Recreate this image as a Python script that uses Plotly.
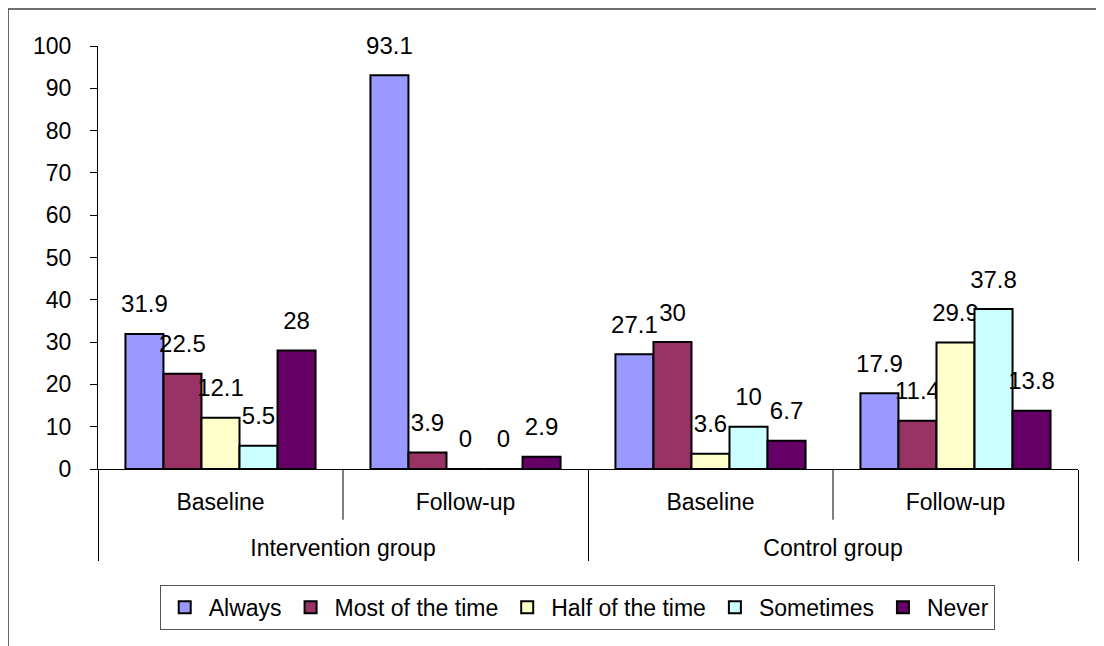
import plotly.graph_objects as go

groups = ["Intervention group", "Intervention group", "Control group", "Control group"]
phases = ["Baseline", "Follow-up", "Baseline", "Follow-up"]

series_names = ["Always", "Most of the time", "Half of the time", "Sometimes", "Never"]
always = [31.9, 93.1, 27.1, 17.9]
most = [22.5, 3.9, 30, 11.4]
half = [12.1, 0, 3.6, 29.9]
sometimes = [5.5, 0, 10, 37.8]
never = [28, 2.9, 6.7, 13.8]
colors = ["#9999FF", "#993366", "#FFFFCC", "#CCFFFF", "#660066"]

y_ticks = list(range(0, 101, 10))

values = [always, most, half, sometimes, never]

# outer level labels pushed one line down, as in the original chart
group_labels = ["<br>" + g for g in groups]

fig = go.Figure()
for name, vals, col in zip(series_names, values, colors):
    fig.add_trace(go.Bar(
        name=name,
        x=[group_labels, phases],
        y=vals,
        marker=dict(color=col, line=dict(color="black", width=2)),
        text=[f"{v:g}" for v in vals],
        texttemplate="<span style='font-size:24px'>%{text}</span><br> ",
        textposition="outside",
        textfont=dict(family="Liberation Sans, Arial", size=12, color="black"),
        constraintext="none",
        cliponaxis=False,
    ))

fig.update_layout(
    width=1096, height=638,
    margin=dict(l=90, r=26, t=38, b=177),
    barmode="group", bargap=0.224, bargroupgap=0,
    plot_bgcolor="white", paper_bgcolor="white",
    font=dict(family="Liberation Sans, Arial", color="black", size=22),
    showlegend=True,
    legend=dict(
        orientation="h", x=0.489, xanchor="center", y=-0.274, yanchor="top",
        bordercolor="#555555", borderwidth=1,
        font=dict(size=23), itemwidth=38, traceorder="normal",
    ),
    yaxis=dict(
        range=[0, 100], tickvals=y_ticks, showgrid=False, zeroline=False,
        showline=True, linecolor="black", linewidth=1,
        ticks="outside", ticklen=7, tickcolor="black",
        tickfont=dict(size=23), ticklabelstandoff=14,
    ),
    xaxis=dict(
        type="multicategory", showline=True, linecolor="black", linewidth=1,
        showdividers=True, dividercolor="black", dividerwidth=1,
        ticks="", tickfont=dict(size=23), ticklabelstandoff=12,
    ),
    shapes=[
        dict(type="line", xref="x", yref="paper", x0=0.5, x1=0.5, y0=0, y1=-0.12,
             line=dict(color="black", width=1)),
        dict(type="line", xref="x", yref="paper", x0=2.5, x1=2.5, y0=0, y1=-0.12,
             line=dict(color="black", width=1)),
        dict(type="rect", xref="paper", yref="paper", x0=-0.0918, x1=1.2,
             y0=1.0875, y1=-0.6, line=dict(color="#404040", width=1.5),
             fillcolor="rgba(0,0,0,0)", layer="below"),
    ],
)

fig.write_html("out.html")
